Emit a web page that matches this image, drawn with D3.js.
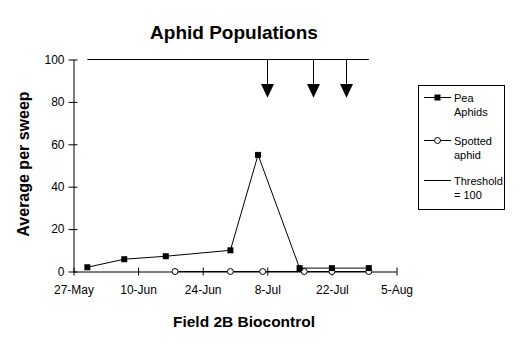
<!DOCTYPE html>
<html><head><meta charset="utf-8">
<script src="https://cdn.jsdelivr.net/npm/d3@7"></script>
<style>
html,body{margin:0;padding:0;background:#fff;}
svg{display:block;font-family:"Liberation Sans",Arial,sans-serif;}
</style></head>
<body>
<svg id="c" width="527" height="359"></svg>
<script>
// ---- data ----
const peaDates = ["2002-05-30","2002-06-07","2002-06-16","2002-06-30","2002-07-06","2002-07-15","2002-07-22","2002-07-30"];
const peaValues = [2, 5.8, 7.2, 10, 55, 1.6, 1.6, 1.6];
const spottedDates = ["2002-06-18","2002-06-30","2002-07-07","2002-07-16","2002-07-22","2002-07-30"];
const spottedValues = [0, 0, 0, 0, 0, 0];
const thresholdDates = ["2002-05-30","2002-07-30"];
const thresholdValues = [100, 100];
const arrowDates = ["2002-07-08","2002-07-18","2002-07-25"];
const xTickDates = ["2002-05-27","2002-06-10","2002-06-24","2002-07-08","2002-07-22","2002-08-05"];
const yTicks = [0, 20, 40, 60, 80, 100];
const legendLabels = [["Pea","Aphids"],["Spotted","aphid"],["Threshold","= 100"]];

const parse = d3.utcParse("%Y-%m-%d");
const fmt = d3.utcFormat("%-d-%b");
const svg = d3.select("#c");

const x = d3.scaleUtc().domain([parse(xTickDates[0]), parse(xTickDates[xTickDates.length-1])]).range([73.5, 396.5]);
const y = d3.scaleLinear().domain([0, 100]).range([271.5, 59.5]);

// y axis
const gy = svg.append("g").attr("transform","translate(73.5,0)")
  .call(d3.axisLeft(y).tickValues(yTicks).tickSizeInner(5).tickSizeOuter(0).tickPadding(5));
gy.select(".domain").attr("stroke","#000");
gy.selectAll(".tick line").attr("x2",4).attr("x1",-5).attr("stroke","#000");
gy.selectAll(".tick text").attr("font-size","12px").attr("fill","#000").attr("font-family","Liberation Sans, Arial, sans-serif").attr("x",-9);

// x axis
const gx = svg.append("g").attr("transform","translate(0,271.5)")
  .call(d3.axisBottom(x).tickValues(xTickDates.map(parse)).tickFormat(fmt).tickSizeInner(4).tickSizeOuter(0).tickPadding(10));
gx.select(".domain").attr("stroke","#000");
gx.selectAll(".tick line").attr("y1",-4).attr("y2",4).attr("stroke","#000");
gx.selectAll(".tick text").attr("font-size","12px").attr("fill","#000").attr("font-family","Liberation Sans, Arial, sans-serif");

// threshold line
const line = d3.line().x(d => x(d[0])).y(d => y(d[1]));
svg.append("path").datum(thresholdDates.map((d,i)=>[parse(d), thresholdValues[i]]))
  .attr("d", line).attr("fill","none").attr("stroke","#000").attr("stroke-width",1);

// arrows
const arrowTop = 100, arrowHeadStart = 88.5, arrowTip = 82;
arrowDates.forEach(d => {
  const ax = Math.round(x(parse(d))) + 0.5;
  svg.append("line").attr("x1",ax).attr("x2",ax).attr("y1",y(arrowTop)).attr("y2",y(arrowHeadStart)).attr("stroke","#000").attr("stroke-width",1);
  svg.append("path").attr("d", `M${ax-6.5},${y(arrowHeadStart)} L${ax+6.5},${y(arrowHeadStart)} L${ax},${y(arrowTip)} Z`).attr("fill","#000");
});

// spotted aphid series
const spotted = spottedDates.map((d,i)=>[parse(d), spottedValues[i]]);
svg.append("path").datum(spotted).attr("d", line).attr("fill","none").attr("stroke","#000").attr("stroke-width",1);

// pea aphid series
const pea = peaDates.map((d,i)=>[parse(d), peaValues[i]]);
svg.append("path").datum(pea).attr("d", line).attr("fill","none").attr("stroke","#000").attr("stroke-width",1);

svg.selectAll("circle.sp").data(spotted).enter().append("circle").attr("class","sp")
  .attr("cx", d => x(d[0])).attr("cy", d => y(d[1])).attr("r",3)
  .attr("fill","#fff").attr("stroke","#000").attr("stroke-width",1);
svg.selectAll("rect.pa").data(pea).enter().append("rect").attr("class","pa")
  .attr("x", d => x(d[0]) - 3).attr("y", d => y(d[1]) - 3).attr("width",6).attr("height",6).attr("fill","#000");

// titles
svg.append("text").attr("x",234).attr("y",38.5).attr("text-anchor","middle")
  .attr("font-size","19px").attr("font-weight","bold").text("Aphid Populations");
svg.append("text").attr("x",244).attr("y",327).attr("text-anchor","middle")
  .attr("font-size","15.5px").attr("font-weight","bold").text("Field 2B Biocontrol");
svg.append("text").attr("transform","translate(28.5,164) rotate(-90)").attr("text-anchor","middle")
  .attr("font-size","16px").attr("font-weight","bold").text("Average per sweep");

// legend
const lg = svg.append("g");
lg.append("rect").attr("x",418.5).attr("y",85.5).attr("width",86).attr("height",124).attr("fill","#fff").attr("stroke","#000");
const rowY = [97, 140, 179.5];
legendLabels.forEach((lab, i) => {
  const yy = Math.round(rowY[i]) + 0.5;
  lg.append("line").attr("x1",424).attr("x2",451).attr("y1",yy).attr("y2",yy).attr("stroke","#000");
  if (i === 0) lg.append("rect").attr("x",434.5).attr("y",yy-3).attr("width",6).attr("height",6).attr("fill","#000");
  if (i === 1) lg.append("circle").attr("cx",437.5).attr("cy",yy).attr("r",3).attr("fill","#fff").attr("stroke","#000");
  const t = lg.append("text").attr("x",454).attr("y",yy+4.5).attr("font-size","11px");
  t.append("tspan").attr("x",454).text(lab[0]);
  t.append("tspan").attr("x",454).attr("dy",14).text(lab[1]);
});
</script>
</body></html>
